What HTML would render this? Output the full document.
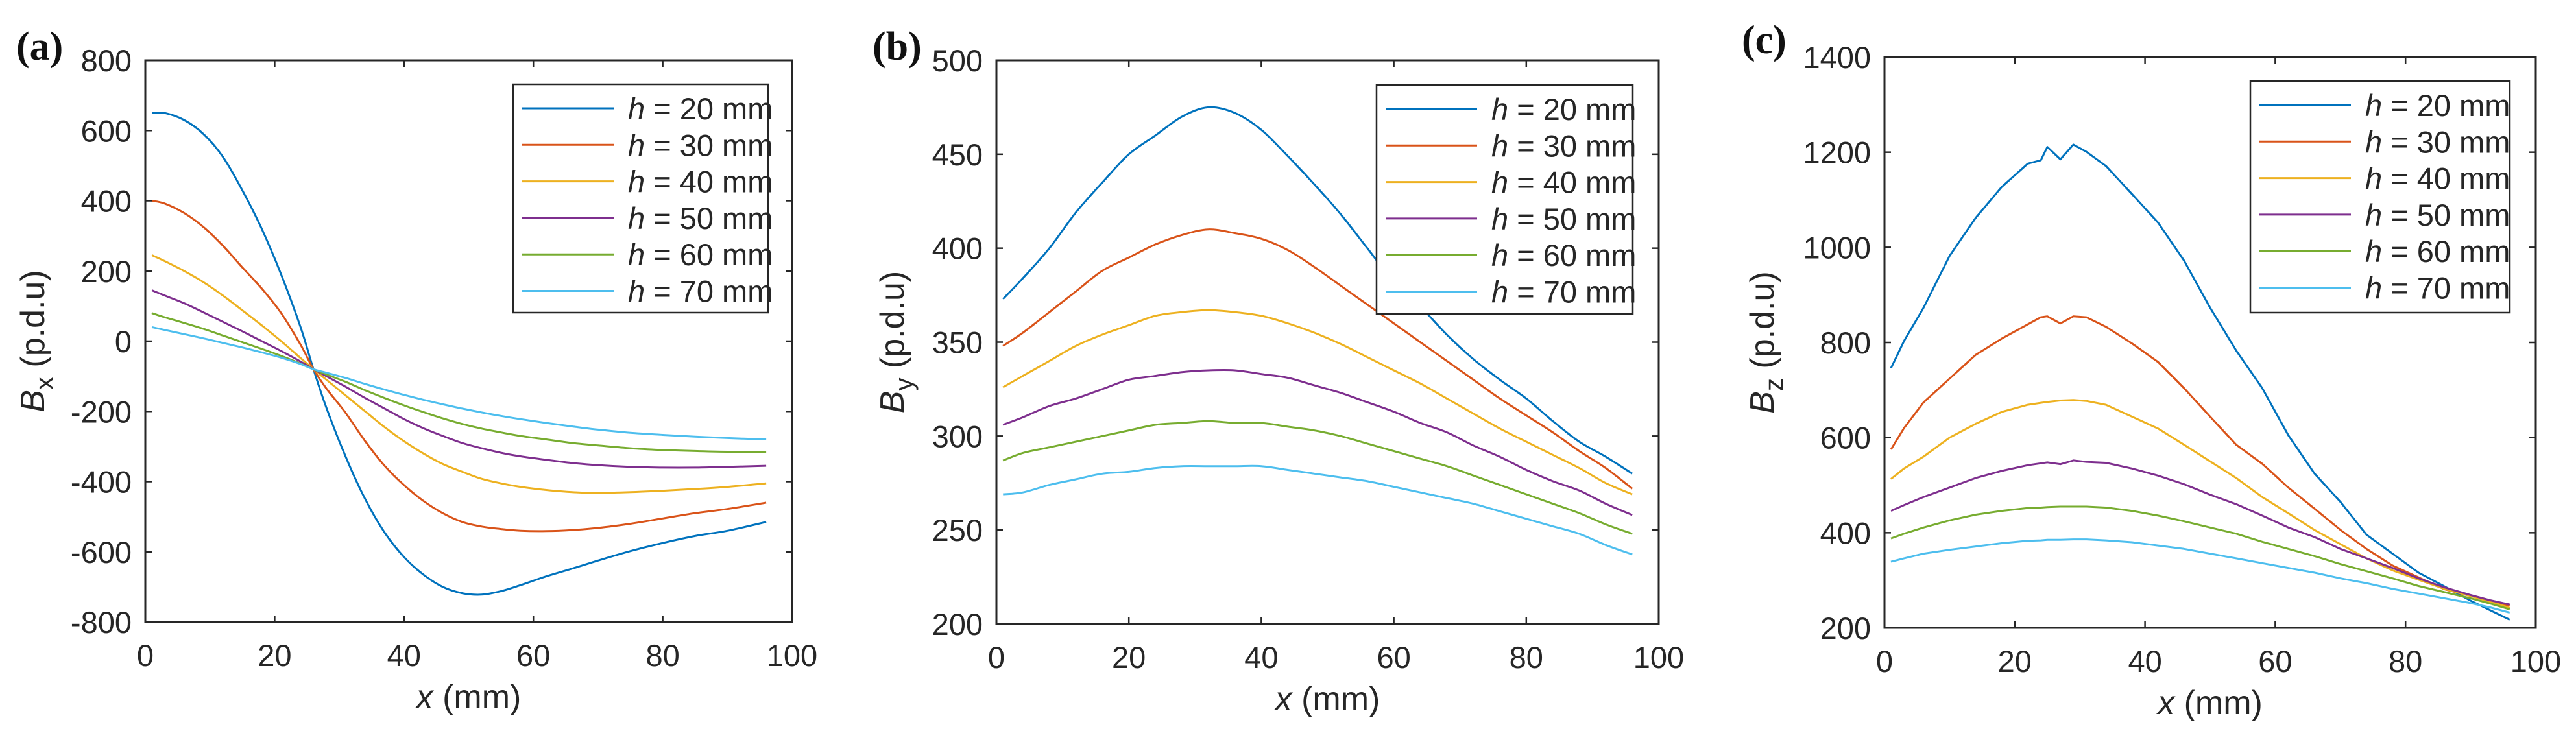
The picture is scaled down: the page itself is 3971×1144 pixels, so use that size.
<!DOCTYPE html>
<html><head><meta charset="utf-8"><style>
html,body{margin:0;padding:0;background:#fff;}
svg{display:block;font-family:"Liberation Sans",Arial,sans-serif;}
</style></head><body>
<svg id="fig" width="3971" height="1144" viewBox="0 0 3971 1144" xmlns="http://www.w3.org/2000/svg"></svg>
<script>
// ---- data ----
const seriesLabels = ["20","30","40","50","60","70"];
const seriesColors = ["#0072BD","#D95319","#EDB120","#7E2F8E","#77AC30","#4DBEEE"];
const xTicks = [0,20,40,60,80,100];

const aX = [1,3,6,9,12,15,18,21,24,26,28,31,34,37,40,43,46,49,52,55,58,62,66,70,75,80,85,90,96];
const aH20 = [650,650,630,590,525,430,320,190,40,-80,-190,-330,-450,-545,-615,-665,-700,-718,-722,-712,-695,-670,-648,-625,-598,-575,-555,-540,-515];
const aH30 = [400,392,365,325,272,210,150,80,-10,-80,-135,-205,-285,-355,-410,-455,-490,-515,-528,-535,-540,-541,-538,-532,-520,-505,-490,-478,-460];
const aH40 = [245,228,200,168,130,88,45,0,-48,-80,-110,-155,-200,-245,-285,-320,-350,-372,-392,-405,-415,-424,-430,-432,-430,-426,-421,-415,-405];
const aH50 = [145,130,108,82,55,28,0,-28,-58,-80,-100,-130,-162,-192,-222,-248,-270,-290,-305,-318,-328,-338,-347,-353,-358,-360,-360,-358,-355];
const aH60 = [80,68,52,35,16,-3,-22,-42,-64,-80,-95,-116,-140,-162,-183,-202,-220,-236,-249,-260,-270,-280,-290,-297,-305,-310,-313,-315,-315];
const aH70 = [40,32,20,8,-5,-18,-32,-47,-65,-80,-90,-105,-122,-138,-153,-167,-180,-192,-203,-213,-222,-233,-243,-252,-261,-267,-272,-276,-280];
const aYTicks = [-800,-600,-400,-200,0,200,400,600,800];

const bX = [1,4,8,12,16,20,24,28,32,36,40,44,48,52,56,60,64,68,72,76,80,84,88,92,96];
const bH20 = [373,384,400,419,435,450,460,470,475,472,463,449,434,418,400,382,369,354,341,330,320,308,297,289,280];
const bH30 = [348,355,366,377,388,395,402,407,410,408,405,399,390,380,370,360,350,340,330,320,311,302,292,283,272];
const bH40 = [326,332,340,348,354,359,364,366,367,366,364,360,355,349,342,335,328,320,312,304,297,290,283,275,269];
const bH50 = [306,310,316,320,325,330,332,334,335,335,333,331,327,323,318,313,307,302,295,289,282,276,271,264,258];
const bH60 = [287,291,294,297,300,303,306,307,308,307,307,305,303,300,296,292,288,284,279,274,269,264,259,253,248];
const bH70 = [269,270,274,277,280,281,283,284,284,284,284,282,280,278,276,273,270,267,264,260,256,252,248,242,237];
const bYTicks = [200,250,300,350,400,450,500];

const cX = [1,3,6,10,14,18,22,24,25,27,29,31,34,38,42,46,50,54,58,62,66,70,74,78,82,86,90,93,96];
const cH20 = [746,803,873,982,1062,1127,1176,1183,1211,1185,1216,1201,1171,1112,1052,972,873,783,704,605,525,465,396,356,316,287,257,237,217];
const cH30 = [575,620,674,724,774,808,838,853,855,840,855,853,833,798,759,704,644,585,545,495,451,406,366,331,306,281,267,255,247];
const cH40 = [513,535,560,600,629,654,669,673,675,678,679,677,669,644,619,585,550,515,475,441,406,376,346,321,301,282,267,255,242];
const cH50 = [446,458,475,495,515,530,542,546,548,544,552,549,547,535,520,502,480,460,436,411,391,366,346,326,304,285,269,258,249];
const cH60 = [388,398,411,426,438,446,452,453,454,455,455,455,453,446,436,424,411,398,381,366,351,334,319,304,288,275,262,251,239];
const cH70 = [339,346,356,364,371,378,383,384,385,385,386,386,384,380,373,366,356,346,336,326,316,304,294,282,272,262,252,243,232];
const cYTicks = [200,400,600,800,1000,1200,1400];

// ---- drawing ----
const NS = "http://www.w3.org/2000/svg";
const svg = document.getElementById("fig");
function mk(tag, attrs, parent){
  const e = document.createElementNS(NS, tag);
  for (const k in attrs) e.setAttribute(k, attrs[k]);
  (parent||svg).appendChild(e);
  return e;
}
function smoothPath(pts){
  let d = "M"+pts[0][0].toFixed(1)+" "+pts[0][1].toFixed(1);
  for (let i=0;i<pts.length-1;i++){
    const p0=pts[Math.max(0,i-1)], p1=pts[i], p2=pts[i+1], p3=pts[Math.min(pts.length-1,i+2)];
    const c1=[p1[0]+(p2[0]-p0[0])/6, p1[1]+(p2[1]-p0[1])/6];
    const c2=[p2[0]-(p3[0]-p1[0])/6, p2[1]-(p3[1]-p1[1])/6];
    d += " C"+c1[0].toFixed(1)+" "+c1[1].toFixed(1)+" "+c2[0].toFixed(1)+" "+c2[1].toFixed(1)+" "+p2[0].toFixed(1)+" "+p2[1].toFixed(1);
  }
  return d;
}
const panels = [
  {id:"a", L:224, R:1221, T:93, B:959, ymin:-800, ymax:800, yt:aYTicks, xs:aX, ys:[aH20,aH30,aH40,aH50,aH60,aH70], sub:"x", smooth:true,
   ylx:50, tag:{x:25,y:92}, leg:{x:791,y:130,w:393,h:352}},
  {id:"b", L:1536, R:2557, T:93, B:962, ymin:200, ymax:500, yt:bYTicks, xs:bX, ys:[bH20,bH30,bH40,bH50,bH60,bH70], sub:"y", smooth:true,
   ylx:1375, tag:{x:1345,y:92}, leg:{x:2122,y:131,w:395,h:353}},
  {id:"c", L:2905, R:3909, T:88, B:968, ymin:200, ymax:1400, yt:cYTicks, xs:cX, ys:[cH20,cH30,cH40,cH50,cH60,cH70], sub:"z", smooth:false,
   ylx:2716, tag:{x:2685,y:82}, leg:{x:3469,y:125,w:400,h:357}}
];
panels.forEach(p=>{
  const g = mk("g",{});
  
  
  const sx = v => p.L + (v-0)/(100-0)*(p.R-p.L);
  const sy = v => p.B - (v-p.ymin)/(p.ymax-p.ymin)*(p.B-p.T);
  p.ys.forEach((arr,i)=>{
    const pts = arr.map((v,j)=>[sx(p.xs[j]), sy(v)]);
    const d = p.smooth ? smoothPath(pts) : pts.map((q,j)=>(j?"L":"M")+q[0].toFixed(1)+" "+q[1].toFixed(1)).join(" ");
    const path = mk("path",{d:d, fill:"none", stroke:seriesColors[i], "stroke-width":3, "stroke-linejoin":"round"}, g);
    
    
  });
  const box = mk("rect",{x:p.L,y:p.T,width:p.R-p.L,height:p.B-p.T,fill:"none",stroke:"#262626","stroke-width":3}, g);
  
  
  xTicks.forEach(t=>{
    const x = sx(t);
    mk("line",{x1:x,y1:p.B,x2:x,y2:p.B-10,stroke:"#262626","stroke-width":2.5},g);
    mk("line",{x1:x,y1:p.T,x2:x,y2:p.T+10,stroke:"#262626","stroke-width":2.5},g);
    const tx = mk("text",{x:x,y:p.B+68,"font-size":47,"text-anchor":"middle",fill:"#262626"},g);
    tx.textContent = t;
    
    
  });
  p.yt.forEach(t=>{
    const y = sy(t);
    mk("line",{x1:p.L,y1:y,x2:p.L+10,y2:y,stroke:"#262626","stroke-width":2.5},g);
    mk("line",{x1:p.R,y1:y,x2:p.R-10,y2:y,stroke:"#262626","stroke-width":2.5},g);
    const ty = mk("text",{x:p.L-21,y:y+17,"font-size":47,"text-anchor":"end",fill:"#262626"},g);
    ty.textContent = t;
    
    
  });
  const xl = mk("text",{x:(p.L+p.R)/2,y:p.B+133,"font-size":52,"text-anchor":"middle",fill:"#262626"},g);
  xl.innerHTML = '<tspan font-style="italic">x</tspan> (mm)';
  
  
  const yc = (p.T+p.B)/2;
  const yl = mk("text",{x:0,y:0,"font-size":52,"text-anchor":"middle",fill:"#262626",transform:`translate(${p.ylx+18},${yc}) rotate(-90)`},g);
  yl.innerHTML = '<tspan font-style="italic">B</tspan><tspan font-size="40" dy="14">'+p.sub+'</tspan><tspan dy="-14"> (p.d.u)</tspan>';
  
  
  const tg = mk("text",{x:p.tag.x,y:p.tag.y,"font-size":62,"font-weight":"bold","font-family":"Liberation Serif, serif",fill:"#111"},g);
  tg.textContent = "("+p.id+")";
  
  
  const lg = mk("g",{},g);
  
  
  mk("rect",{x:p.leg.x,y:p.leg.y,width:p.leg.w,height:p.leg.h,fill:"#fff",stroke:"#262626","stroke-width":2.5},lg);
  seriesLabels.forEach((s,i)=>{
    const cy = p.leg.y + 37 + i*56.3;
    const ln = mk("line",{x1:p.leg.x+14,y1:cy,x2:p.leg.x+155,y2:cy,stroke:seriesColors[i],"stroke-width":3},lg);
    
    
    const t = mk("text",{x:p.leg.x+177,y:cy+17,"font-size":47,fill:"#262626"},lg);
    t.innerHTML = '<tspan font-style="italic">h</tspan> = '+s+' mm';
    
    
  });
});
</script>
</body></html>
